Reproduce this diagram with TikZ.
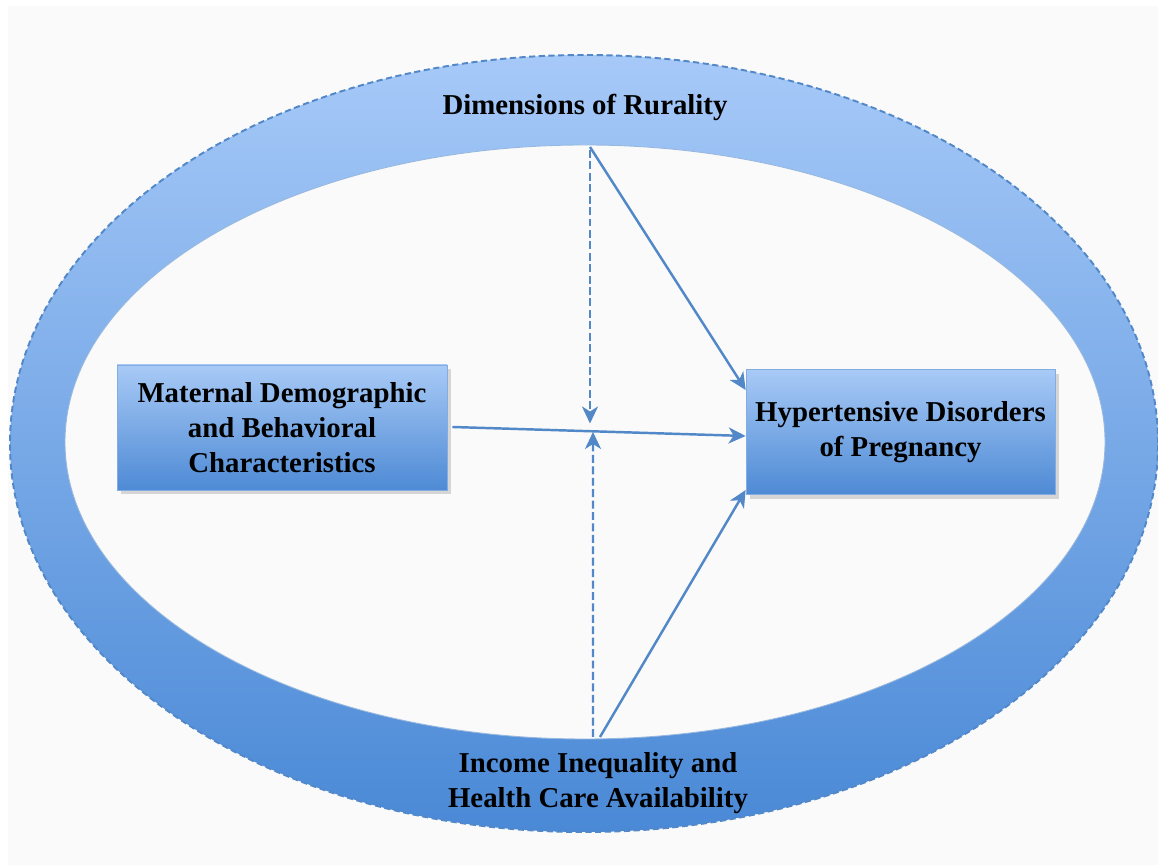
\documentclass[tikz,border=0pt]{standalone}
\usepackage{fontspec}
\setmainfont{Liberation Serif}
\usepackage{tikz}
\usetikzlibrary{arrows.meta,shadows}

\definecolor{bgc}{HTML}{FAFAFA}
\definecolor{ringtop}{HTML}{A6C9F8}
\definecolor{ringbot}{HTML}{4A89D6}
\definecolor{linec}{HTML}{5288C8}
\definecolor{boxtop}{HTML}{A8CAF6}
\definecolor{boxbot}{HTML}{4E8AD5}

\begin{document}
\begin{tikzpicture}[
    font=\fontsize{16.4}{19.8}\selectfont\bfseries,
    box/.style={rectangle, draw=boxbot!70!white, line width=0.4pt,
      top color=boxtop, bottom color=boxbot, drop shadow={opacity=0.3},
      minimum width=#1, minimum height=2.5cm, align=center},
    link/.style={draw=linec, line width=1.4pt,
      -{Stealth[length=3.4mm,width=3.2mm,inset=1mm]}},
    mod/.style={link, dash pattern=on 4.5pt off 2pt}
  ]
  \useasboundingbox (0,0) rectangle (23.16,17.3);
  \fill[white] (0,0) rectangle (23.16,17.3);
  \fill[bgc] (0.16,0) rectangle (23.16,17.18);

  \shade[top color=ringtop, bottom color=ringbot] (11.68,8.43) ellipse [x radius=11.48cm, y radius=7.77cm];
  \draw[linec, line width=1.1pt, dash pattern=on 3.5pt off 2pt] (11.68,8.43) ellipse [x radius=11.48cm, y radius=7.77cm];
  \filldraw[fill=bgc, draw=linec!60!white, line width=0.5pt] (11.70,8.46) ellipse [x radius=10.4cm, y radius=5.94cm];

  \node (rural) at (11.7,15.16) {Dimensions of Rurality};
  \node[align=center] (income) at (11.96,1.64) {Income Inequality and\\Health Care Availability};
  \node[box=6.6cm] (maternal) at (5.64,8.75) {Maternal Demographic\\and Behavioral\\Characteristics};
  \node[box=6.18cm] (hdp) at (18.01,8.66) {Hypertensive Disorders\\of Pregnancy};

  \coordinate (rtop) at (11.8,14.36);
  \coordinate (ibot) at (12.0,2.56);
  \coordinate (mid) at (11.8,8.8);

  \draw[link] (rtop) -- ([yshift=0.84cm]hdp.west);
  \draw[link] (ibot) -- ([yshift=-1.16cm]hdp.west);
  \draw[link] ([xshift=0.1cm,yshift=0.01cm]maternal.east) -- ([yshift=-0.08cm]hdp.west);
  \draw[mod] ([yshift=-0.06cm]rtop) -- ([yshift=0.03cm]mid);
  \draw[mod] ([xshift=-0.14cm]ibot) -- ([xshift=0.06cm,yshift=-0.14cm]mid);
\end{tikzpicture}
\end{document}
